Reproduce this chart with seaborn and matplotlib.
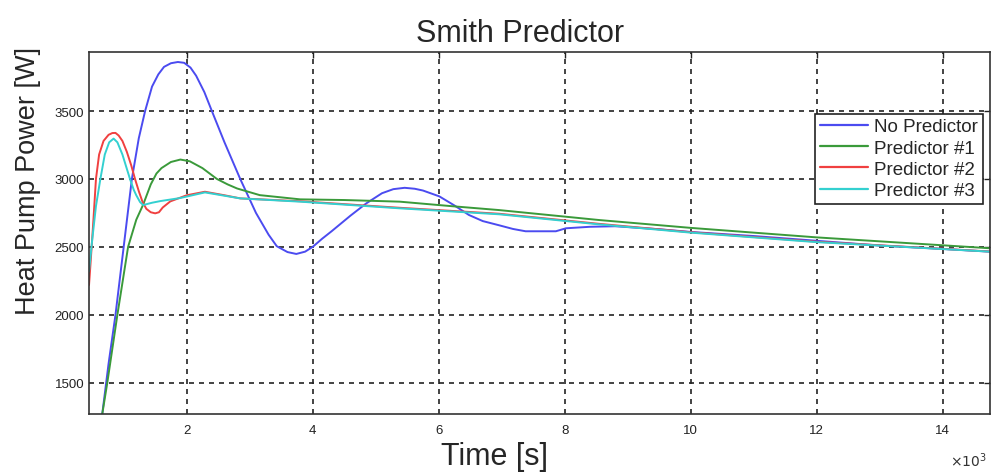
import numpy as np
import pandas as pd
import seaborn as sns
import matplotlib
matplotlib.use("Agg")
import matplotlib.pyplot as plt

# ---- data (time in s, power in W) ----
t_none = [600, 660, 760, 870, 1000, 1130, 1240, 1340, 1450, 1550, 1640, 1750, 1860, 1960, 2060, 2150,
          2280, 2400, 2600, 2850, 3100, 3300, 3430, 3600, 3740, 3880, 4000, 4150, 4300, 4600, 4850,
          5100, 5280, 5460, 5620, 5750, 6010, 6250, 6480, 6700, 6960, 7180, 7380, 7860, 8020, 8400,
          8800, 9500, 10000, 11000, 12000, 13000, 14000, 14750]
p_none = [1150, 1270, 1640, 2000, 2500, 3000, 3300, 3500, 3680, 3770, 3825, 3852, 3861, 3855, 3820, 3760,
          3640, 3500, 3270, 3000, 2750, 2590, 2505, 2462, 2448, 2465, 2500, 2560, 2615, 2730, 2820,
          2895, 2925, 2935, 2928, 2915, 2872, 2805, 2735, 2690, 2659, 2632, 2615, 2615, 2637, 2648,
          2652, 2630, 2610, 2580, 2545, 2510, 2485, 2465]

t_p1 = [620, 660, 740, 900, 1070, 1200, 1310, 1430, 1520, 1600, 1750, 1900, 2050, 2250, 2480, 2650,
        2800, 3160, 3800, 4500, 5380, 6200, 6960, 8540, 10000, 12000, 14750]
p_p1 = [1150, 1270, 1500, 2000, 2500, 2700, 2812, 2960, 3040, 3080, 3125, 3143, 3130, 3080, 3000, 2960,
        2930, 2881, 2850, 2845, 2833, 2800, 2771, 2698, 2640, 2570, 2490]

t_p2 = [450, 480, 520, 560, 610, 680, 760, 820, 870, 920, 980, 1050, 1120, 1180, 1240, 1300, 1360,
        1430, 1500, 1560, 1620, 1740, 2000, 2290, 2600, 2850, 3800, 5380, 6960, 8540, 10000, 12000,
        14750]
p_p2 = [2220, 2420, 2700, 3000, 3180, 3280, 3325, 3338, 3339, 3320, 3280, 3200, 3100, 3000, 2910, 2830,
        2780, 2755, 2747, 2755, 2790, 2835, 2880, 2906, 2880, 2857, 2836, 2788, 2744, 2670, 2608, 2538,
        2466]

t_p3 = [450, 500, 560, 630, 700, 770, 840, 900, 980, 1040, 1100, 1160, 1200, 1260, 1310, 1450, 1580,
        1900, 2290, 2850, 3800, 5380, 6960, 8540, 10000, 12000, 14750]
p_p3 = [2320, 2550, 2800, 3000, 3180, 3270, 3297, 3270, 3180, 3090, 3000, 2920, 2880, 2830, 2808, 2825,
        2837, 2860, 2901, 2857, 2833, 2784, 2740, 2666, 2605, 2535, 2465]

labels = ["No Predictor", "Predictor #1", "Predictor #2", "Predictor #3"]
colors = ["#4b4bf0", "#3a9a3a", "#f04040", "#33d0d0"]

x_ticks = [2000, 4000, 6000, 8000, 10000, 12000, 14000]
x_ticklabels = ["2", "4", "6", "8", "10", "12", "14"]
y_ticks = [1500, 2000, 2500, 3000, 3500]
y_ticklabels = ["1500", "2000", "2500", "3000", "3500"]

frames = []
for lab, t, p in zip(labels, [t_none, t_p1, t_p2, t_p3], [p_none, p_p1, p_p2, p_p3]):
    frames.append(pd.DataFrame({"t": t, "p": p, "series": lab}))
df = pd.concat(frames, ignore_index=True)

sns.set_style("white")
plt.rcParams["font.family"] = ["Liberation Sans", "DejaVu Sans"]

fig = plt.figure(figsize=(10.06, 4.77), dpi=100)
ax = fig.add_axes([0.0885, 0.130, 0.8955, 0.759])

sns.lineplot(data=df, x="t", y="p", hue="series", hue_order=labels,
             palette=dict(zip(labels, colors)), estimator=None, sort=False,
             linewidth=1.4, ax=ax)

ax.set_xlim(450, 14750)
ax.set_ylim(1270, 3935)
ax.set_xticks(x_ticks)
ax.set_xticklabels(x_ticklabels)
ax.set_yticks(y_ticks)
ax.set_yticklabels(y_ticklabels)
ax.tick_params(direction="in", length=4, width=1, labelsize=9.5, colors="#222222",
               top=True, right=True)
ax.tick_params(axis="x", pad=7)
ax.grid(True, color="#222222", linestyle=(0, (3, 3)), linewidth=1.2)
for s in ax.spines.values():
    s.set_color("#333333")
    s.set_linewidth(1.2)

ax.set_xlabel("Time [s]", fontsize=22)
ax.xaxis.set_label_coords(0.45, -0.075)
ax.set_ylabel("Heat Pump Power [W]", fontsize=19.5)
ax.yaxis.set_label_coords(-0.053, 0.645)
ax.set_title("Smith Predictor", fontsize=22, pad=8, x=0.478)

leg = ax.legend(loc="upper right", bbox_to_anchor=(0.996, 0.84), fontsize=13.5,
                frameon=True, fancybox=False, framealpha=1, edgecolor="#222222",
                handlelength=2.6, handletextpad=0.3, borderpad=0.25, labelspacing=0.22,
                borderaxespad=0.2)
leg.get_frame().set_linewidth(1.2)
for line in leg.get_lines():
    line.set_linewidth(1.6)

fig.text(0.944, 0.02, r"$\times10^{3}$", fontsize=10, color="#333333")

fig.savefig("out.png", dpi=100)
